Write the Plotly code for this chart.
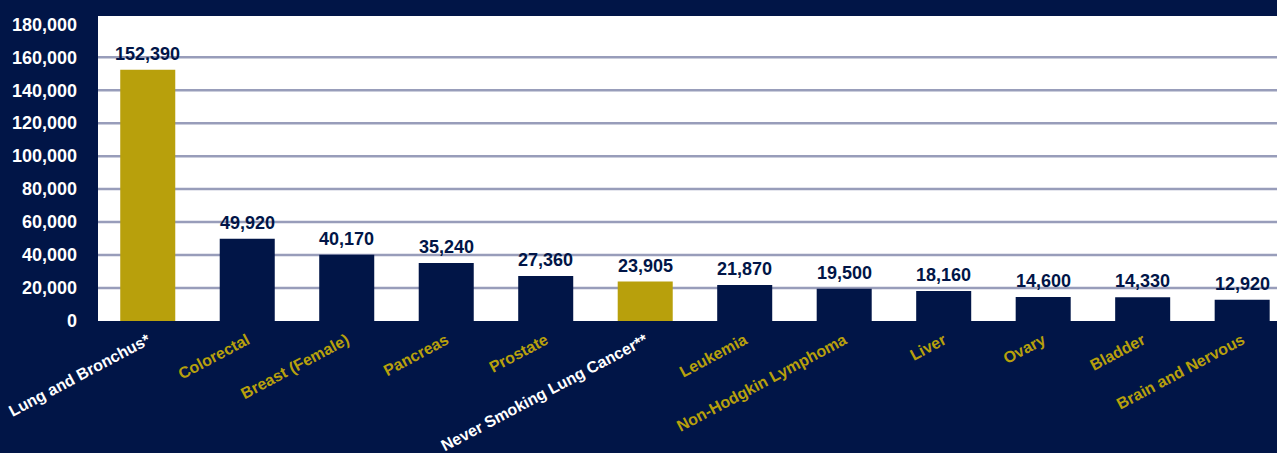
import plotly.graph_objects as go

categories = [
    "Lung and Bronchus*", "Colorectal", "Breast (Female)", "Pancreas", "Prostate",
    "Never Smoking Lung Cancer**", "Leukemia", "Non-Hodgkin Lymphoma", "Liver",
    "Ovary", "Bladder", "Brain and Nervous",
]
deaths = [152390, 49920, 40170, 35240, 27360, 23905, 21870, 19500, 18160, 14600, 14330, 12920]
highlight = [True, False, False, False, False, True, False, False, False, False, False, False]
y_ticks = [0, 20000, 40000, 60000, 80000, 100000, 120000, 140000, 160000, 180000]

NAVY = "#011547"
GOLD = "#B8A00C"
GRID = "#989DBA"
FONT = "Liberation Sans, Arial, sans-serif"

bar_colors = [GOLD if h else NAVY for h in highlight]
tick_text = [
    f'<span style="color:{"#FFFFFF" if h else GOLD}"><b>{c}</b></span>'
    for c, h in zip(categories, highlight)
]

fig = go.Figure(
    go.Bar(
        x=categories,
        y=deaths,
        marker=dict(color=bar_colors, line=dict(width=0)),
        hoverinfo="skip",
    )
)

for c, v in zip(categories, deaths):
    fig.add_annotation(
        x=c, y=v, text=f"<b>{v:,}</b>", showarrow=False,
        yanchor="bottom", yshift=4,
        font=dict(family=FONT, size=18, color=NAVY),
    )

# horizontal grid lines (the reference draws none at 0 or at the top value)
for t in y_ticks:
    if 0 < t < max(y_ticks):
        fig.add_shape(
            type="line", xref="paper", x0=0, x1=1, yref="y", y0=t, y1=t,
            line=dict(color=GRID, width=2.5), layer="below",
        )

fig.update_layout(
    width=1277,
    height=453,
    margin=dict(l=98, r=0, t=16, b=132),
    paper_bgcolor=NAVY,
    plot_bgcolor="#FFFFFF",
    bargap=0.447,
    showlegend=False,
    font=dict(family=FONT),
    xaxis=dict(
        type="category",
        range=[-0.5, 11.35],
        tickmode="array",
        tickvals=categories,
        ticktext=tick_text,
        tickangle=-28,
        tickfont=dict(family=FONT, size=16, color=GOLD),
        ticklabelstandoff=6,
        automargin=False,
        showgrid=False,
        showline=False,
        zeroline=False,
        ticks="",
    ),
    yaxis=dict(
        range=[0, 185000],
        tickmode="array",
        tickvals=y_ticks,
        tickformat=",",
        tickfont=dict(family=FONT, size=18, color="#FFFFFF", weight="bold"),
        ticklabelstandoff=20,
        automargin=False,
        showgrid=False,
        zeroline=False,
        showline=False,
    ),
)

fig.write_html(
    "out.html",
    config={"displayModeBar": False},
    post_script="document.body.style.margin='0';",
)
